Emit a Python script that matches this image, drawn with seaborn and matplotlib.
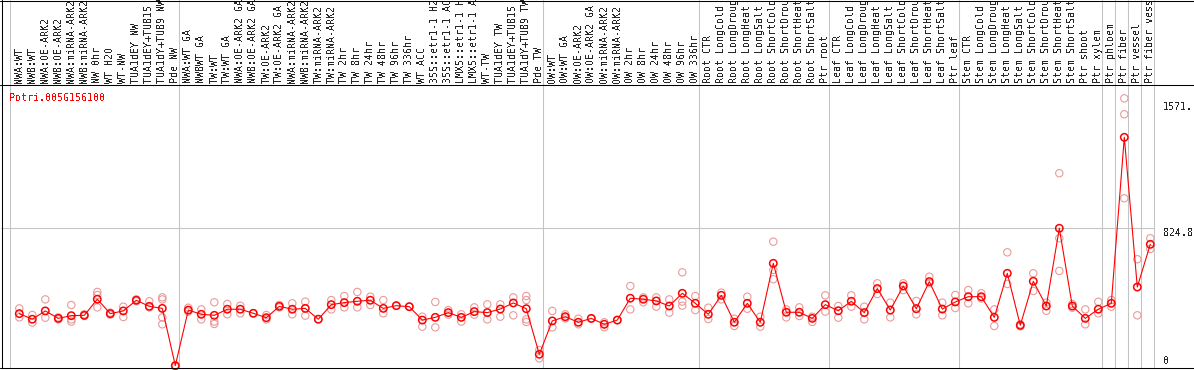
import numpy as np
import pandas as pd
import matplotlib.pyplot as plt
from matplotlib.lines import Line2D
import seaborn as sns

gene_id = "Potri.005G156100"

labels = [
    "NWA:WT", "NWB:WT", "NWA:OE-ARK2", "NWB:OE-ARK2", "NWA:miRNA-ARK2",
    "NWB:miRNA-ARK2", "NW 0hr", "WT H2O", "WT-NW", "TUA1dEY NW",
    "TUA1dEY+TUB15 NW", "TUA1dY+TUB9 NW", "Pde NW",
    "NWA:WT GA", "NWBWT GA", "TW:WT", "TW:WT GA", "NWA:OE-ARK2 GA",
    "NWB:OE-ARK2 GA", "TW:OE-ARK2", "TW:OE-ARK2 GA", "NWA:miRNA-ARK2",
    "NWB:miRNA-ARK2", "TW:miRNA-ARK2", "TW:miRNA-ARK2", "TW 2hr", "TW 8hr",
    "TW 24hr", "TW 48hr", "TW 96hr", "TW 336hr", "WT ACC",
    "35S::etr1-1 H2O", "35S::etr1-1 ACC", "LMX5::etr1-1 H2O",
    "LMX5::etr1-1 ACC", "WT-TW", "TUA1dEY TW", "TUA1dEY+TUB15 TW",
    "TUA1dY+TUB9 TW", "Pde TW",
    "OW:WT", "OW:WT GA", "OW:OE-ARK2", "OW:OE-ARK2 GA", "OW:miRNA-ARK2",
    "OW:miRNA-ARK2", "OW 2hr", "OW 8hr", "OW 24hr", "OW 48hr", "OW 96hr",
    "OW 336hr",
    "Root CTR", "Root LongCold", "Root LongDrought", "Root LongHeat",
    "Root LongSalt", "Root ShortCold", "Root ShortDrought", "Root ShortHeat",
    "Root ShortSalt", "Ptr root",
    "Leaf CTR", "Leaf LongCold", "Leaf LongDrought", "Leaf LongHeat",
    "Leaf LongSalt", "Leaf ShortCold", "Leaf ShortDrought", "Leaf ShortHeat",
    "Leaf ShortSalt", "Ptr leaf",
    "Stem CTR", "Stem LongCold", "Stem LongDrought", "Stem LongHeat",
    "Stem LongSalt", "Stem ShortCold", "Stem ShortDrought", "Stem ShortHeat",
    "Stem ShortSalt", "Ptr shoot", "Ptr xylem",
    "Ptr phloem", "Ptr fiber", "Ptr vessel", "Ptr fiber vessel",
]

means = [
    321, 288, 337, 293, 309, 311, 406, 321, 337, 400, 364, 352, 14,
    342, 317, 311, 347, 347, 323, 297, 364, 347, 352, 288, 374, 386, 394,
    400, 352, 368, 362, 283, 299, 327, 299, 333, 327, 348, 384, 350, 81,
    278, 303, 270, 293, 258, 283, 412, 406, 396, 366, 441, 382,
    317, 429, 270, 382, 270, 618, 329, 329, 293, 374,
    338, 394, 327, 469, 342, 484, 350, 510, 348, 390,
    421, 421, 299, 559, 252, 512, 366, 825, 366, 293, 347,
    382, 1362, 478, 730,
]

replicates = [
    [352, 299], [313, 268], [405, 297], [299, 287], [372, 287, 274],
    [317, 307], [449, 431, 358], [327, 315], [362, 301], [405, 394],
    [394, 358], [417, 405, 299, 258], [14, 10],
    [356, 333], [346, 287], [388, 274, 260], [378, 317], [368, 323],
    [323], [313, 287], [372, 358], [382, 317], [392, 309], [288],
    [401, 346], [425, 358], [449, 358], [421, 372], [401, 323], [368],
    [362], [303, 244], [390, 240], [342, 315], [317, 274], [358, 315],
    [376, 287], [376, 303], [417, 311], [425, 401, 287, 272], [106, 57],
    [337, 240], [317, 293], [291, 258], [291], [270, 240], [283],
    [484, 346], [417, 388], [417, 362], [405, 327], [565, 392, 368],
    [425, 342],
    [356, 289], [445, 405], [291, 248], [421, 350], [303, 244],
    [746, 579, 524], [346, 299], [358, 307], [303, 272], [429, 333],
    [366, 297], [429, 362], [362, 287], [500, 437], [386, 299],
    [500, 460], [396, 317], [539, 500], [386, 311], [431, 354],
    [460, 382], [441, 411], [346, 248], [683, 496], [258, 246],
    [559, 455], [386, 338], [1150, 766, 573], [378, 356], [346, 258],
    [391, 323], [401, 362], [1592, 1498, 1002], [642, 311], [766, 703],
]

# columns after which a group separator is drawn
group_breaks = [0, 13, 41, 53, 63, 73, 84, 85, 86, 87, 88]
grid_value = 824.8
y_tick_values = [0, 824.8, 1571]
y_tick_text = ["0", "824.8", "1571."]

sns.set_style("white")
plt.rcParams["font.family"] = ["DejaVu Sans Mono", "DejaVu Sans"]
plt.rcParams["text.antialiased"] = False
fs = 7.2

pos = np.arange(1, len(labels) + 1)
mean_df = pd.DataFrame({"pos": pos, "value": means})
rep_df = pd.DataFrame(
    [(p, v) for p, vals in zip(pos, replicates) for v in vals],
    columns=["pos", "value"],
)

W, H = 1194, 370
fig = plt.figure(figsize=(W / 100, H / 100), dpi=100)
px_left, px_right = 1, 1155
head_bottom, plot_bottom = 85, 368
ax = fig.add_axes([px_left / W, (H - plot_bottom) / H,
                   (px_right - px_left) / W, (plot_bottom - head_bottom) / H])
hx = fig.add_axes([px_left / W, (H - head_bottom) / H,
                   (px_right - px_left) / W, head_bottom / H])

xmin = 1 - (19.3 - px_left) / 13
xmax = xmin + (px_right - px_left) / 13
ymax = (plot_bottom - head_bottom) * 5.904

for a in (ax, hx):
    a.set_xlim(xmin, xmax)
    a.set_xticks([])
    a.set_yticks([])
    for s in a.spines.values():
        s.set_visible(False)
    for k in group_breaks:
        a.axvline(k + 0.285, color="#c4c4c4", lw=0.75, zorder=0)
ax.set_ylim(0, ymax)
ax.axhline(grid_value, color="#c4c4c4", lw=0.75, zorder=0)

sns.scatterplot(data=rep_df, x="pos", y="value", ax=ax, marker="o", s=28,
                facecolor="none", edgecolor="#eb9a9a", linewidth=0.8,
                clip_on=False, zorder=2)
sns.lineplot(data=mean_df, x="pos", y="value", ax=ax, color="red", lw=0.8,
             zorder=3)
sns.scatterplot(data=mean_df, x="pos", y="value", ax=ax, marker="o", s=28,
                facecolor="none", edgecolor="red", linewidth=1.1,
                clip_on=False, zorder=4)
ax.set_xlabel("")
ax.set_ylabel("")

# sample labels in the header, cut off at the top like the original
for p, lab in zip(pos, labels):
    hx.text(p, 2 / head_bottom, lab, rotation=90, ha="center", va="bottom",
            transform=hx.get_xaxis_transform(), fontsize=fs, clip_on=True)

ax.text(8.5 / (px_right - px_left), 1 - 8 / (plot_bottom - head_bottom),
        gene_id, transform=ax.transAxes, color="red", fontsize=fs,
        ha="left", va="top")

lab_x = (1163 - px_left) / (px_right - px_left)
for v, t in zip(y_tick_values, y_tick_text):
    va = "bottom" if v == 0 else "top"
    yy = v if v else 2 * ymax / (plot_bottom - head_bottom)
    ax.text(lab_x, yy, t, transform=ax.get_yaxis_transform(), fontsize=fs,
            ha="left", va=va, clip_on=False)

# outer frame lines
for y in (0.5, head_bottom, plot_bottom):
    fig.add_artist(Line2D([0, 1], [1 - y / H, 1 - y / H],
                          transform=fig.transFigure, color="black", lw=0.75))
fig.add_artist(Line2D([1.5 / W, 1.5 / W], [1 - plot_bottom / H, 1],
                      transform=fig.transFigure, color="black", lw=0.75))

fig.savefig("out.png", dpi=100)
